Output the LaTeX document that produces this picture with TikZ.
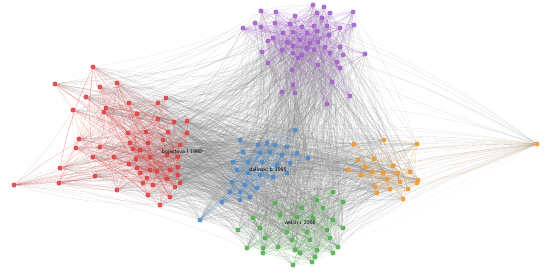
\documentclass[tikz,border=0pt]{standalone}
\usepackage{tikz}
\definecolor{clred}{RGB}{221,64,64}
\definecolor{clpurple}{RGB}{163,98,201}
\definecolor{clblue}{RGB}{78,138,200}
\definecolor{clgreen}{RGB}{82,176,78}
\definecolor{clorange}{RGB}{236,152,52}
\pgfdeclarelayer{edges}
\pgfsetlayers{edges,main}
\tikzset{
  dot/.style={circle,inner sep=0pt,minimum size=5pt,fill=#1,fill opacity=0.9},
  link/.style={line width=0.14pt,draw=#1,draw opacity=0.32,bend left=7},
  link/.default=gray,
  farlink/.style={line width=0.12pt,draw=gray,draw opacity=0.15,bend left=4},
  lbl/.style={font=\sffamily\fontsize{5.6}{6.5}\selectfont,text=black,inner sep=0.5pt},
}

\begin{document}
\begin{tikzpicture}[x=1pt,y=-1pt]
\useasboundingbox (0,0) rectangle (550,271);
\pgfmathsetseed{17}
%Red cluster
\foreach \x/\y [count=\i] in {93/67,55/84,100/87,117/83,86/97,129/103,158/103,166/98,106/108,104/112,
  73/110,137/114,158/119,174/122,187/121,128/133,146/132,168/132,187/133,79/139,
  76/148,100/147,130/143,148/143,163/140,180/145,133/149,140/150,93/157,114/157,
  136/159,150/157,167/155,178/157,129/164,137/168,150/170,157/171,170/170,178/167,
  60/168,95/176,140/173,147/178,167/179,178/175,14/185,59/183,117/190,143/183,
  153/185,175/187,180/183,160/205,148/195,170/197}
  \node[dot=clred] (r\i) at (\x,\y) {};
%Purple cluster
\foreach \x/\y [count=\i] in {313/5,324/7,261/11,276/12,317/13,330/13,353/12,295/16,322/18,255/23,
  275/23,290/24,302/27,314/26,327/26,340/28,354/25,243/28,261/27,283/33,
  293/32,307/33,317/31,329/35,273/38,287/42,300/40,310/43,318/42,268/41,
  293/46,307/48,314/50,325/47,340/47,262/52,282/50,293/53,302/55,330/53,
  343/55,365/54,268/63,298/58,318/65,337/62,292/70,340/68,293/85,282/92,
  295/93,332/82,350/96,327/104}
  \node[dot=clpurple] (p\i) at (\x,\y) {};
%Blue cluster
\foreach \x/\y [count=\i] in {295/130,240/140,258/145,267/143,275/145,287/147,243/152,260/153,270/152,282/155,
  297/153,233/162,248/162,262/162,277/165,290/163,308/158,237/170,248/173,260/175,
  273/177,287/173,232/182,245/185,257/188,240/192,230/192,222/202,240/200,200/220,
  250/197}
  \node[dot=clblue] (b\i) at (\x,\y) {};
%Green cluster
\foreach \x/\y [count=\i] in {333/192,317/200,275/203,302/208,323/208,343/202,253/218,280/215,297/217,313/218,
  333/220,238/230,260/228,287/232,307/232,327/230,343/228,265/238,292/240,310/240,
  330/238,247/248,263/248,278/247,295/250,317/250,338/247,263/253,300/253,315/257,
  333/253,293/265,312/262}
  \node[dot=clgreen] (g\i) at (\x,\y) {};
%Orange cluster
\foreach \x/\y [count=\i] in {354/144,384/140,417/144,537/144,358/160,374/159,365/167,348/170,393/166,372/172,
  361/175,383/173,398/173,410/172,387/179,400/182,418/180,417/183,375/187,390/189,
  408/189,377/193,403/199}
  \node[dot=clorange] (o\i) at (\x,\y) {};

%Labels
\node[lbl] (lr) at (182,152) {bojesteva l 1998};
\node[lbl] (lb) at (268,170) {dalinski b 1995};
\node[lbl] (lg) at (300,223) {welch i 2008};

\begin{pgfonlayer}{edges}
%Links between clusters
\foreach \a/\na/\b/\nb/\m in {r/56/b/31/6, r/56/g/33/4, r/56/o/23/2, p/54/b/31/4, p/54/g/33/4,
  p/54/r/56/3, p/54/o/23/2, b/31/g/33/7, b/31/o/23/4, g/33/o/23/4}
  \foreach \i in {1,...,\na}
    \foreach \n in {1,...,\m}{
      \pgfmathrandominteger{\k}{1}{\nb}
      \draw[link] (\a\i) to (\b\k);
    }
%Far orange node
\foreach \b/\nb/\m in {p/54/8, r/56/8, b/31/5, g/33/4}
  \foreach \n in {1,...,\m}{
    \pgfmathrandominteger{\k}{1}{\nb}
    \draw[farlink] (o4) to (\b\k);
  }
%Links inside clusters
\foreach \a/\na/\m/\c in {r/56/9/clred, p/54/9/clpurple, b/31/6/clblue, g/33/6/clgreen, o/23/5/clorange}
  \foreach \i in {1,...,\na}
    \foreach \n in {1,...,\m}{
      \pgfmathrandominteger{\k}{1}{\na}
      \ifnum\k=\i\else
        \draw[link=\c] (\a\i) to (\a\k);
      \fi
    }
\end{pgfonlayer}
\end{tikzpicture}
\end{document}
